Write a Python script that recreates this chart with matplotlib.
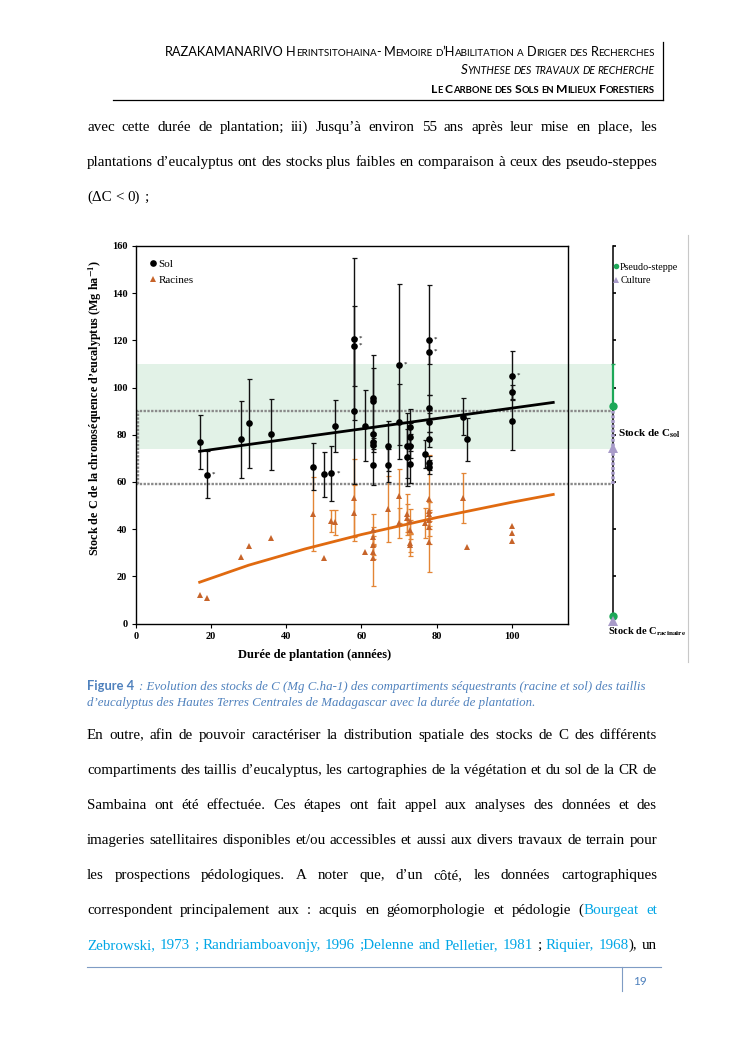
import matplotlib
matplotlib.use('Agg')
import matplotlib.pyplot as plt
import matplotlib.lines as mlines
import numpy as np

plt.rcParams['mathtext.fontset'] = 'stix'

SERIF = 'Liberation Serif'
SANS = 'Lato'
BLUE = '#4F81BD'
LINK = '#00A6E6'

# ---------------- data ----------------
# soil carbon stocks (Sol), Mg C/ha
sol_x = [17, 19, 28, 30, 36, 47, 50, 52, 53, 58, 58, 58, 61, 63, 63, 63, 63, 63, 63,
         67, 67, 70, 70, 72, 72, 73, 73, 73, 73, 77, 78, 78, 78, 78, 78, 78, 78,
         87, 88, 100, 100, 100]
sol_y = [77, 63, 78, 84.8, 80.2, 66.5, 63.3, 63.6, 83.9, 120.6, 117.5, 90, 83.9,
         95.7, 94.5, 80.2, 76.9, 75.5, 67, 75.2, 67, 109.7, 85.6, 75.4, 70.4,
         83.1, 79.1, 75.3, 67.6, 71.7, 120.2, 115, 91.5, 85.3, 78, 68.2, 66.2,
         87.7, 78, 105, 98, 85.9]
sol_err = [11.5, 10, 16.5, 19, 15, 10, 9.6, 11.6, 11, 34.4, 17, 31, 15,
           18.3, 13.8, 3, 3, 3, 8.4, 10.5, 7, 34, 16, 13.8, 12,
           8, 6, 5, 8, 6, 23.4, 5, 5.5, 4, 3, 3, 3,
           7.7, 9, 10.4, 3, 12.5]
sol_star = [0, 1, 0, 0, 0, 0, 1, 1, 0, 1, 1, 0, 0, 0, 0, 0, 0, 0, 0,
            0, 0, 1, 0, 0, 0, 0, 0, 0, 0, 0, 1, 1, 0, 0, 0, 0, 0,
            0, 0, 1, 0, 0]

# root carbon stocks (Racines)
rac_x = [17, 19, 28, 30, 36, 47, 50, 52, 53, 58, 58, 61, 63, 63, 63, 63, 63,
         67, 70, 70, 72, 72, 73, 73, 73, 73, 77, 78, 78, 78, 78, 78, 78,
         87, 88, 100, 100, 100]
rac_y = [12, 11, 28.3, 32.7, 36.4, 46.3, 27.7, 43.5, 43, 53.3, 46.9, 30.3,
         39.8, 36.8, 33.2, 30.5, 27.6, 48.6, 54, 42.6, 46.2, 44.8, 43.3, 39.8,
         34.1, 33.4, 42.6, 52.6, 47.6, 46.5, 44, 40.9, 34.7, 53.3, 32.3,
         41.2, 38.4, 34.8]
rac_err = [0, 0, 0, 0, 0, 15.7, 0, 4.8, 5.3, 16.6, 12, 0, 6.7, 4, 4, 3, 11.5,
           14, 11.6, 6.4, 8.5, 6, 5.3, 4, 4, 5, 6.4, 19, 4, 5, 4, 4, 12.7,
           10.5, 0, 0, 0, 0]

# trend lines
fit_sol_x = [17, 111]
fit_sol_y = [73, 93.7]
fit_rac_x = [17, 30, 45, 60, 80, 100, 111]
fit_rac_y = [17.5, 24.7, 31.6, 37.7, 44.9, 51.4, 54.7]

# reference land uses (right-hand scale)
steppe_sol, steppe_err, steppe_rac = 92, 18, 3.2
culture_sol, culture_err, culture_rac = 74.5, 15.5, 1.0

# ---------------- page text ----------------
header = ['RAZAKAMANARIVO Herintsitohaina- Memoire d\u2019Habilitation a Diriger des Recherches',
          'Synthese des travaux de recherche',
          'Le Carbone des Sols en Milieux Forestiers']
para_top = ['avec cette durée de plantation; iii) Jusqu\u2019à environ 55 ans après leur mise en place, les',
            'plantations d\u2019eucalyptus ont des stocks plus faibles en comparaison à ceux des pseudo-steppes',
            '(\u0394C < 0) ;']
caption = ['Figure 4',
           ' : Evolution des stocks de C (Mg C.ha-1) des compartiments séquestrants (racine et sol) des taillis',
           'd\u2019eucalyptus des Hautes Terres Centrales de Madagascar avec la durée de plantation.']
para_bot = ['En outre, afin de pouvoir caractériser la distribution spatiale des stocks de C des différents',
            'compartiments des taillis d\u2019eucalyptus, les cartographies de la végétation et du sol de la CR de',
            'Sambaina ont été effectuée. Ces étapes ont fait appel aux analyses des données et  des',
            'imageries satellitaires disponibles et/ou accessibles et aussi aux divers travaux de terrain pour',
            'les prospections pédologiques. A noter que, d\u2019un côté, les données cartographiques',
            'correspondent principalement aux : acquis en géomorphologie et pédologie (\u2039Bourgeat et\u203a',
            '\u2039Zebrowski, 1973 ; Randriamboavonjy, 1996 ;Delenne and Pelletier, 1981\u203a ; \u2039Riquier, 1968\u203a), un']

W, H = 745, 1053
fig = plt.figure(figsize=(W / 100, H / 100), dpi=100)
page = fig.add_axes([0, 0, 1, 1], zorder=0)
page.set_xlim(0, W)
page.set_ylim(H, 0)
page.axis('off')
renderer = fig.canvas.get_renderer()


def width_of(s, **kw):
    t = page.text(0, 0, s, **kw)
    w = t.get_window_extent(renderer).width
    t.remove()
    return w


def words_of(line):
    # split a line into words, each a list of (text, colour) pieces; ‹ › marks link colour
    words, cur, piece, col = [], [], '', 'black'
    for ch in line:
        if ch in '\u2039\u203a':
            if piece:
                cur.append((piece, col))
                piece = ''
            col = LINK if ch == '\u2039' else 'black'
        elif ch == ' ':
            if piece:
                cur.append((piece, col))
                piece = ''
            if cur:
                words.append(cur)
                cur = []
        else:
            piece += ch
    if piece:
        cur.append((piece, col))
    if cur:
        words.append(cur)
    return words


def body_line(y, line, size, justify=True, x0=87, x1=657):
    kw = dict(fontsize=size, family=SERIF)
    words = words_of(line)
    widths = [[width_of(t, **kw) for t, c in w] for w in words]
    total = sum(sum(ws) for ws in widths)
    if justify and len(words) > 1:
        gap = (x1 - x0 - total) / (len(words) - 1)
    else:
        gap = width_of('n n', **kw) - width_of('nn', **kw)
    x = x0
    for w, ws in zip(words, widths):
        for (t, c), tw in zip(w, ws):
            page.text(x, y, t, color=c, va='baseline', **kw)
            x += tw
        x += gap


def small_caps(xr, y, s, size, draw=True, **kw):
    runs = []
    for ch in s:
        fs = size * 0.78 if ch.islower() else size
        c = ch.upper()
        if runs and runs[-1][1] == fs and c != ' ' and runs[-1][0][-1] != ' ':
            runs[-1][0] += c
        else:
            runs.append([c, fs])
    sp = width_of('A A', fontsize=size, family=SANS, **kw) - width_of('AA', fontsize=size, family=SANS, **kw)
    items, x = [], 0
    for t, fs in runs:
        if t == ' ':
            x += sp * 0.8
            continue
        items.append((x, t, fs))
        x += width_of(t, fontsize=fs, family=SANS, **kw)
    if draw:
        for xi, t, fs in items:
            page.text(xr - x + xi, y, t, fontsize=fs, family=SANS, va='baseline', **kw)
    return x


# header
for (txt, xl, yb, style) in [(header[0], 161, 56, {}),
                              (header[1], 459, 74, {'style': 'italic'}),
                              (header[2], 428, 93, {'weight': 'bold'})]:
    w10 = small_caps(655, yb, txt, 10, draw=False, **style)
    small_caps(655, yb, txt, 10 * (655 - xl) / w10, **style)
page.plot([113, 663], [99.5, 99.5], color='black', lw=0.9)
page.plot([663, 663], [42, 100], color='black', lw=0.9)

# body text
body_size = 10 * 566 / width_of(para_top[1], fontsize=10, family=SERIF)
for yb, line, just in zip([131, 166, 201], para_top, [True, True, False]):
    body_line(yb, line, body_size, justify=just)
for i, line in enumerate(para_bot):
    body_line(739 + 35 * i, line, body_size)

# caption
cap_size = 8.0
wf = width_of(caption[0], fontsize=cap_size, family=SANS, weight='bold')
wc = width_of(caption[1].strip(), fontsize=cap_size, family=SERIF, style='italic')
cap_size = cap_size * (650 - 87 - 5) / (wf + wc)
wf = width_of(caption[0], fontsize=cap_size, family=SANS, weight='bold')
page.text(87, 690, caption[0], fontsize=cap_size, family=SANS, weight='bold', color=BLUE, va='baseline')
page.text(87 + wf + 5, 690, caption[1].strip(), fontsize=cap_size, family=SERIF, style='italic',
          color=BLUE, va='baseline')
page.text(87, 706, caption[2], fontsize=cap_size, family=SERIF, style='italic', color=BLUE, va='baseline')

# footer
page.plot([87, 661], [967, 967], color='#7F9CC4', lw=0.8)
page.plot([622, 622], [967, 991], color='#7F9CC4', lw=0.8)
page.text(633, 985, '19', fontsize=8.5, family=SANS, color=BLUE, va='baseline')

# image border on the right
page.plot([688, 688], [235, 662], color='#c8c8c8', lw=0.8)

# ---------------- chart ----------------
L, R, T, B = 135.7, 568.3, 246, 623.5
ax = fig.add_axes([L / W, 1 - B / H, (R - L) / W, (B - T) / H], zorder=2)
ax.set_xlim(0, 115)
ax.set_ylim(0, 160)
x_ref = 115 * (612.7 - L) / (R - L)   # position of the reference scale

band_col = '#E2F2E7'
dot_col = '#8a8a8a'
ax.fill_between([0, x_ref], steppe_sol - steppe_err, steppe_sol + steppe_err,
                color=band_col, lw=0, zorder=0, clip_on=False)
for yv in (culture_sol - culture_err, culture_sol + culture_err):
    ax.plot([0, x_ref], [yv, yv], color=dot_col, lw=1.7, ls=(0, (1.0, 0.6)), zorder=1, clip_on=False)
ax.plot([0.5, 0.5], [culture_sol - culture_err, culture_sol + culture_err], color=dot_col,
        lw=1.7, ls=(0, (1.0, 0.6)), zorder=1)

sx, sy, se = np.array(sol_x), np.array(sol_y), np.array(sol_err)
rx, ry, re = np.array(rac_x), np.array(rac_y), np.array(rac_err)

m = re > 0
ax.errorbar(rx[m], ry[m], yerr=re[m], fmt='none', ecolor='#E38535', elinewidth=1.0,
            capsize=1.8, capthick=0.9, zorder=2)
m = se > 0
ax.errorbar(sx[m], sy[m], yerr=se[m], fmt='none', ecolor='#111111', elinewidth=1.0,
            capsize=1.8, capthick=0.9, zorder=3)

ax.plot(fit_rac_x, fit_rac_y, color='#E06A10', lw=2.0, zorder=4)
ax.plot(fit_sol_x, fit_sol_y, color='black', lw=2.0, zorder=4)

ax.plot(rx, ry, '^', color='#C7642A', ms=4.8, mew=0, ls='none', zorder=5, label='Racines')
ax.plot(sx, sy, 'o', color='black', ms=4.8, mew=0, ls='none', zorder=6, label='Sol')
for x, y, st in zip(sol_x, sol_y, sol_star):
    if st:
        ax.text(x + 1.3, y + 0.3, '*', fontsize=5, family=SERIF, va='center', zorder=6)

h = ax.get_legend_handles_labels()
ax.legend([h[0][1], h[0][0]], [h[1][1], h[1][0]], loc='upper left', frameon=False,
          prop={'family': SERIF, 'size': 8}, handletextpad=0.05, handlelength=0.8,
          borderaxespad=0.9, labelspacing=0.55, borderpad=0.3)

ax.set_xticks(range(0, 101, 20))
ax.set_yticks(range(0, 161, 20))
ax.tick_params(labelsize=7.5, length=3, width=0.8, pad=3)
for lab in ax.get_xticklabels() + ax.get_yticklabels():
    lab.set_family(SERIF)
    lab.set_fontweight('bold')
for s in ax.spines.values():
    s.set_linewidth(1.0)

ax.set_xlabel('Durée de plantation (années)', family=SERIF, fontweight='bold', fontsize=9)
ax.xaxis.set_label_coords((315 - L) / (R - L), -(649 - B) / (B - T))
ax.set_ylabel('Stock de C de la chronoséquence d\u2019eucalyptus (Mg ha$^{\\mathbf{-1}}$)',
              family=SERIF, fontweight='bold', fontsize=8.7)
ax.yaxis.set_label_coords(-(L - 104) / (R - L), (B - 408) / (B - T))

# reference scale (pseudo-steppe / culture)
axr = fig.add_axes([612.7 / W, 1 - B / H, 70 / W, (B - T) / H], zorder=3)
axr.set_xlim(0, 1)
axr.set_ylim(0, 160)
axr.set_facecolor('none')
for k in ('top', 'right', 'bottom'):
    axr.spines[k].set_visible(False)
axr.spines['left'].set_linewidth(1.1)
axr.set_xticks([])
axr.set_yticks(range(0, 161, 20))
axr.set_yticklabels([])
axr.tick_params(axis='y', direction='in', length=2.5, width=1.2)

green = '#1DA858'
lav = '#A89BC9'
axr.errorbar([0], [steppe_sol], yerr=[[0], [steppe_err]], fmt='none', ecolor=green,
             elinewidth=1.6, capsize=1.5, clip_on=False, zorder=3)
axr.plot([0, 0], [culture_sol - culture_err, culture_sol + culture_err], color=lav, lw=2.6,
         ls=(0, (0.8, 0.5)), clip_on=False, zorder=4)
axr.plot([0, 0], [steppe_sol, steppe_rac], 'o', color=green, ms=6, mew=0, clip_on=False, zorder=5)
axr.plot([0, 0], [culture_sol, culture_rac], '^', color=lav, ms=6.5, mew=0, clip_on=False, zorder=6)

hs = [mlines.Line2D([], [], marker='o', color=green, ls='none', ms=4, mew=0),
      mlines.Line2D([], [], marker='^', color=lav, ls='none', ms=4, mew=0)]
axr.legend(hs, ['Pseudo-steppe', 'Culture'], loc='upper left', bbox_to_anchor=(0.0, 0.955),
           frameon=False, prop={'family': SERIF, 'size': 7.2}, handletextpad=0.05,
           handlelength=0.7, borderaxespad=0, borderpad=0, labelspacing=0.45)

trans = axr.get_yaxis_transform()
axr.text(5 / 70, 80.5, 'Stock de C$_{\\mathbf{sol}}$', transform=trans, family=SERIF,
         fontweight='bold', fontsize=8, va='center', ha='left')
axr.text(-5 / 70, -3.6, 'Stock de C$_{\\mathbf{racinaire}}$', transform=trans, family=SERIF,
         fontweight='bold', fontsize=7.5, va='center', ha='left')

fig.savefig('out.png', dpi=100)
